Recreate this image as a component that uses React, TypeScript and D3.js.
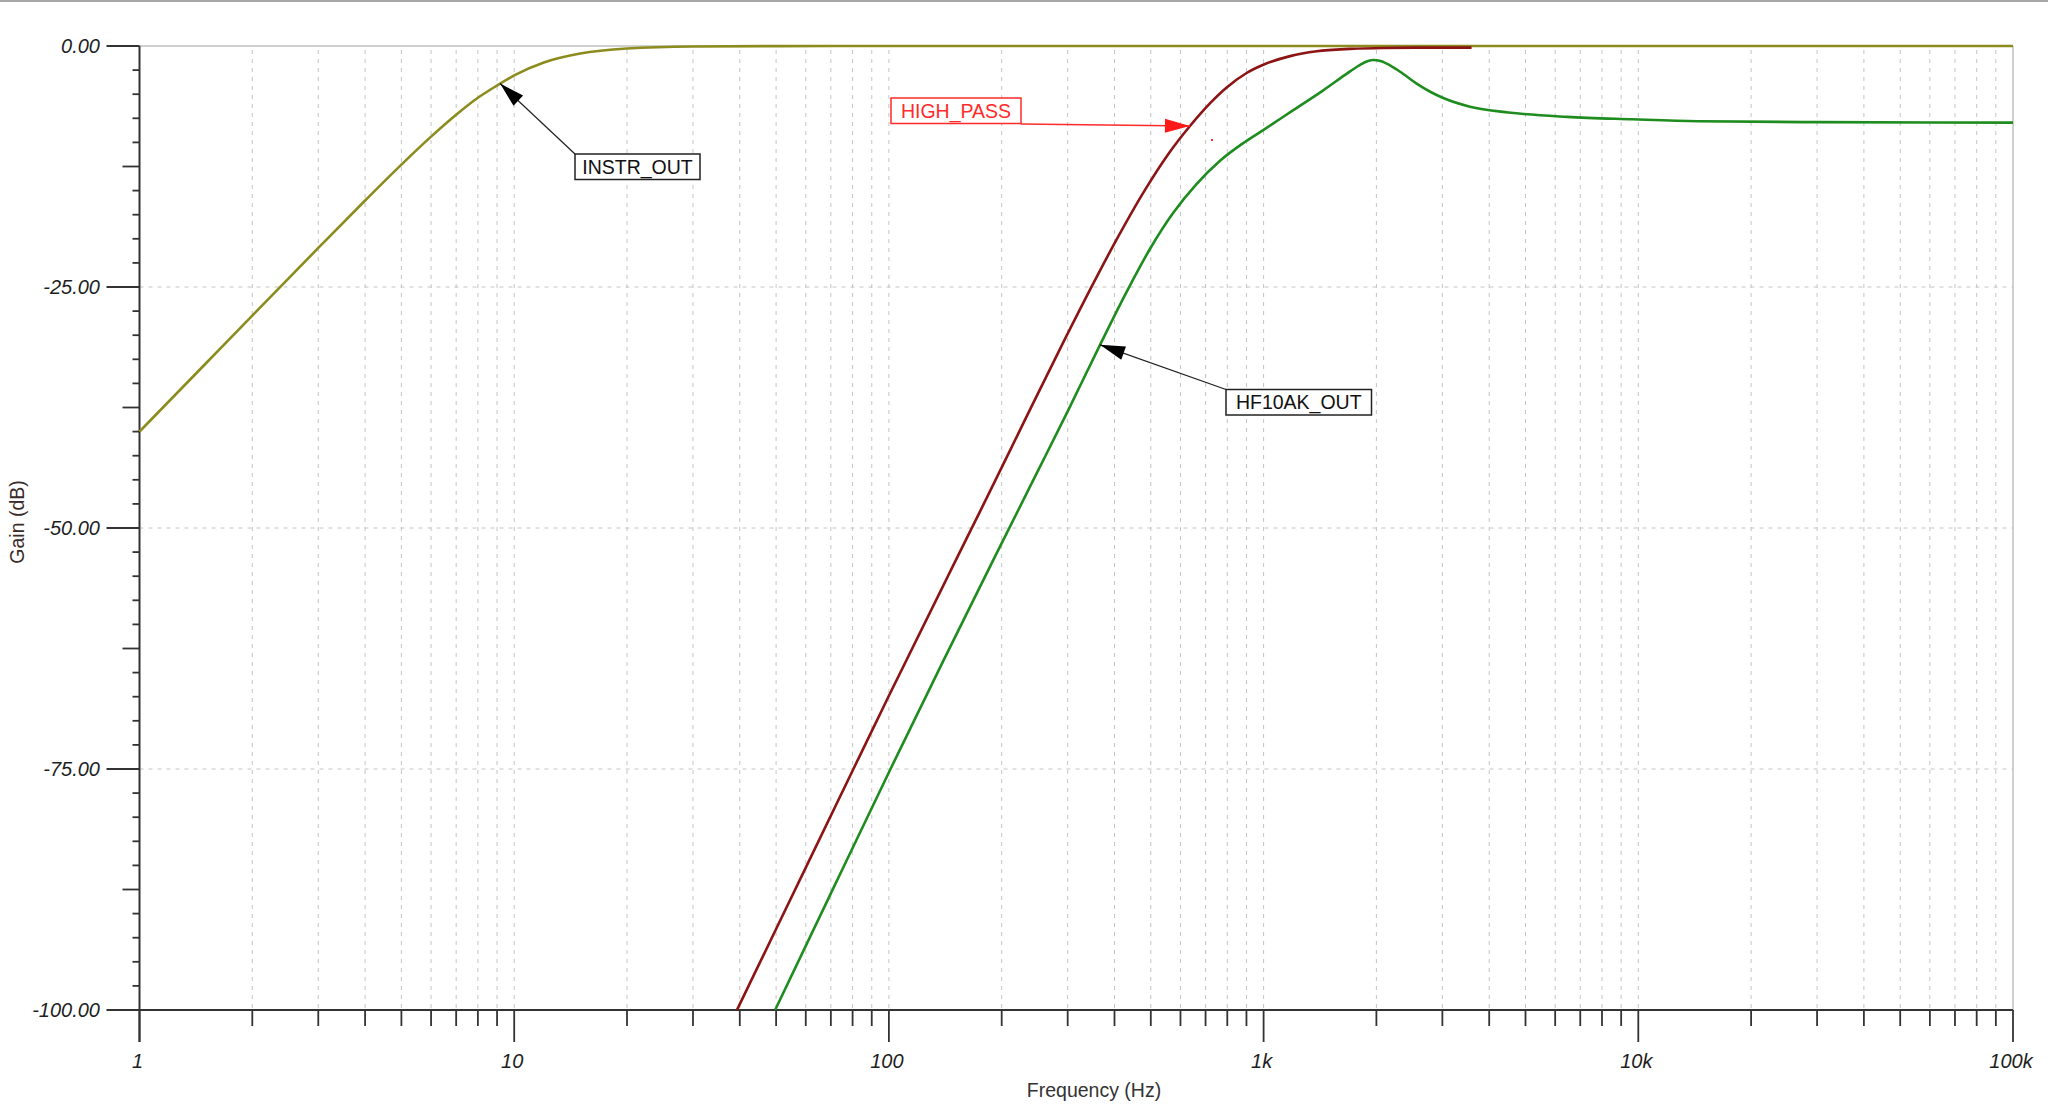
import React from "react";
import * as d3 from "d3";

// ---- data ----
const instrFreq = [1, 1.5, 2, 3, 4, 5, 6, 7, 8, 9, 10, 12, 15, 20, 30, 50, 100, 100000];
const instrGain = [-40.0, -32.96, -27.96, -20.95, -16.03, -12.3, -9.4, -7.13, -5.37, -4.1, -3.05, -1.71, -0.78, -0.26, -0.05, -0.01, 0, 0];

const highPassFreq = [39.3, 50, 80.4, 100, 151, 175, 228, 283, 344, 401, 483, 557, 636, 719, 797, 901, 998, 1177, 1386, 1700, 2083, 2800, 3590];
const highPassGain = [-100, -91.6, -75, -67.4, -53.3, -48.3, -39.2, -31.8, -25.3, -20.4, -14.9, -11.2, -8.3, -5.95, -4.3, -2.8, -1.95, -1.05, -0.55, -0.3, -0.2, -0.17, -0.17];

const hfFreq = [49.7, 70, 101, 140, 190, 246, 300, 366, 431, 500, 574, 663, 765, 880, 1000, 1200, 1443, 1650, 1800, 1900, 1963, 2050, 2174, 2360, 2562, 2800, 3017, 3555, 4500, 6457, 9651, 14400, 30000, 100000];
const hfGain = [-100, -87.9, -75, -63.7, -53.3, -44.6, -37.9, -31.0, -25.5, -20.9, -17.3, -14.3, -11.9, -10.1, -8.7, -6.65, -4.6, -3.0, -2.0, -1.55, -1.45, -1.55, -2.0, -2.9, -3.9, -4.8, -5.4, -6.3, -6.9, -7.35, -7.6, -7.8, -7.9, -7.95];

const xTickValues = [1, 10, 100, 1000, 10000, 100000];
const xTickLabels = ["1", "10", "100", "1k", "10k", "100k"];
const yTickValues = [0, -25, -50, -75, -100];
const yTickLabels = ["0.00", "-25.00", "-50.00", "-75.00", "-100.00"];

const annotationLabels = ["INSTR_OUT", "HIGH_PASS", "HF10AK_OUT"];
const annotationFreq = [9.17, 636, 366];
const annotationGain = [-3.9, -8.3, -31.0];

const W = 2048;
const H = 1110;
const FONT = "'Liberation Sans', Arial, sans-serif";

export default function App() {
  const x = d3.scaleLog().domain([1, 100000]).range([139.5, 2013]);
  const y = d3.scaleLinear().domain([-100, 0]).range([1010, 46]);

  const mk = (fs: number[], gs: number[]) =>
    d3
      .line<number>()
      .x((_, i) => x(fs[i]))
      .y((_, i) => y(gs[i]))
      .curve(d3.curveMonotoneX)(fs.map((_, i) => i)) as string;

  const minorFreqs: number[] = [];
  for (let k = 0; k < 5; k++) {
    for (let m = 2; m <= 9; m++) minorFreqs.push(m * Math.pow(10, k));
  }
  const gridFreqs = [...minorFreqs, 10, 100, 1000, 10000];

  const yMinor: number[] = [];
  for (let v = 0; v >= -100; v -= 2.5) yMinor.push(v);

  const x0 = x(1);
  const x1 = x(100000);
  const yTop = y(0);
  const yBot = y(-100);

  const arrowHead = (sx: number, sy: number, tx: number, ty: number, len = 25, wid = 14) => {
    const dx = tx - sx;
    const dy = ty - sy;
    const L = Math.hypot(dx, dy);
    const ux = dx / L;
    const uy = dy / L;
    const bx = tx - ux * len;
    const by = ty - uy * len;
    const px = -uy * (wid / 2);
    const py = ux * (wid / 2);
    return `${tx},${ty} ${bx + px},${by + py} ${bx - px},${by - py}`;
  };

  const boxes = [
    { x: 575, y: 154, w: 125, h: 25.5, color: "#222", text: "#111", sx: 575, sy: 154 },
    { x: 891, y: 98, w: 130, h: 25.5, color: "#ff2a2a", text: "#ff2a2a", sx: 1021, sy: 124 },
    { x: 1226, y: 389.5, w: 145.5, h: 25.5, color: "#222", text: "#111", sx: 1226, sy: 389.5 },
  ];

  return (
    <svg
      width={W}
      height={H}
      style={{ position: "absolute", left: 0, top: 0, background: "#fff" }}
      fontFamily={FONT}
    >
      <rect x={0} y={0} width={W} height={H} fill="#fff" />
      <line x1={0} x2={W} y1={1} y2={1} stroke="#a8a8a8" strokeWidth={2} />

      {gridFreqs.map((f, i) => (
        <line
          key={"gv" + i}
          x1={x(f)}
          x2={x(f)}
          y1={yTop + 4}
          y2={yBot}
          stroke="#c4c4c4"
          strokeWidth={1}
          strokeDasharray="4,5"
        />
      ))}
      {[-25, -50, -75].map((v) => (
        <line
          key={"gh" + v}
          x1={x0}
          x2={x1}
          y1={y(v)}
          y2={y(v)}
          stroke="#c4c4c4"
          strokeWidth={1}
          strokeDasharray="4,5"
        />
      ))}
      <line x1={x0} x2={x1} y1={yTop} y2={yTop} stroke="#c0c0c0" strokeWidth={1.5} />
      <line x1={x1} x2={x1} y1={yTop} y2={yBot} stroke="#c0c0c0" strokeWidth={1.5} />

      <line x1={x0} x2={x0} y1={yTop} y2={yBot + 32} stroke="#333" strokeWidth={2} />
      <line x1={107} x2={x1} y1={yBot} y2={yBot} stroke="#333" strokeWidth={2} />

      {yMinor.map((v, i) => {
        const isMajor = Math.abs(v % 25) < 1e-6;
        const isMid = !isMajor && Math.abs(v % 12.5) < 1e-6;
        const len = isMajor ? 33 : isMid ? 17 : 7;
        return (
          <line key={"yt" + i} x1={x0 - len} x2={x0} y1={y(v)} y2={y(v)} stroke="#333" strokeWidth={1.8} />
        );
      })}
      {yTickValues.map((v, i) => (
        <text
          key={"yl" + i}
          x={100}
          y={y(v) + 7}
          textAnchor="end"
          fontSize={20}
          fontStyle="italic"
          fill="#1e1e1e"
        >
          {yTickLabels[i]}
        </text>
      ))}

      {minorFreqs.map((f, i) => (
        <line key={"xt" + i} x1={x(f)} x2={x(f)} y1={yBot} y2={yBot + 16} stroke="#333" strokeWidth={1.8} />
      ))}
      {xTickValues.map((f, i) => (
        <line key={"xM" + i} x1={x(f)} x2={x(f)} y1={yBot} y2={yBot + 32} stroke="#333" strokeWidth={1.8} />
      ))}
      {xTickValues.map((f, i) => {
        const label = xTickLabels[i];
        const half = label.length * 5.6;
        const cx = Math.min(Math.max(x(f) - 2, half), W - half - 1);
        return (
          <text
            key={"xl" + i}
            x={cx}
            y={1068}
            textAnchor="middle"
            fontSize={20}
            fontStyle="italic"
            fill="#1e1e1e"
          >
            {label}
          </text>
        );
      })}

      <text x={1094} y={1097} textAnchor="middle" fontSize={19.5} fill="#333">
        Frequency (Hz)
      </text>
      <text
        transform={`translate(24,522) rotate(-90)`}
        textAnchor="middle"
        fontSize={19.5}
        fill="#3a2a28"
      >
        Gain (dB)
      </text>

      <path d={mk(instrFreq, instrGain)} fill="none" stroke="#8c8c1e" strokeWidth={2.6} />
      <path d={mk(highPassFreq, highPassGain)} fill="none" stroke="#8c1414" strokeWidth={2.6} />
      <path d={mk(hfFreq, hfGain)} fill="none" stroke="#1e8c1e" strokeWidth={2.6} />

      {annotationLabels.map((lab, i) => {
        const b = boxes[i];
        const tx = x(annotationFreq[i]);
        const ty = y(annotationGain[i]);
        return (
          <g key={"an" + i}>
            <line x1={b.sx} y1={b.sy} x2={tx} y2={ty} stroke={b.color} strokeWidth={1.3} />
            <polygon points={arrowHead(b.sx, b.sy, tx, ty)} fill={i === 1 ? "#ff1a1a" : "#000"} />
            <rect x={b.x} y={b.y} width={b.w} height={b.h} fill="#fff" stroke={b.color} strokeWidth={1.5} />
            <text
              x={b.x + b.w / 2}
              y={b.y + b.h / 2 + 7}
              textAnchor="middle"
              fontSize={19.5}
              fill={b.text}
            >
              {lab}
            </text>
          </g>
        );
      })}
      <rect x={1211} y={139} width={2} height={2} fill="#ff2a2a" />
    </svg>
  );
}
